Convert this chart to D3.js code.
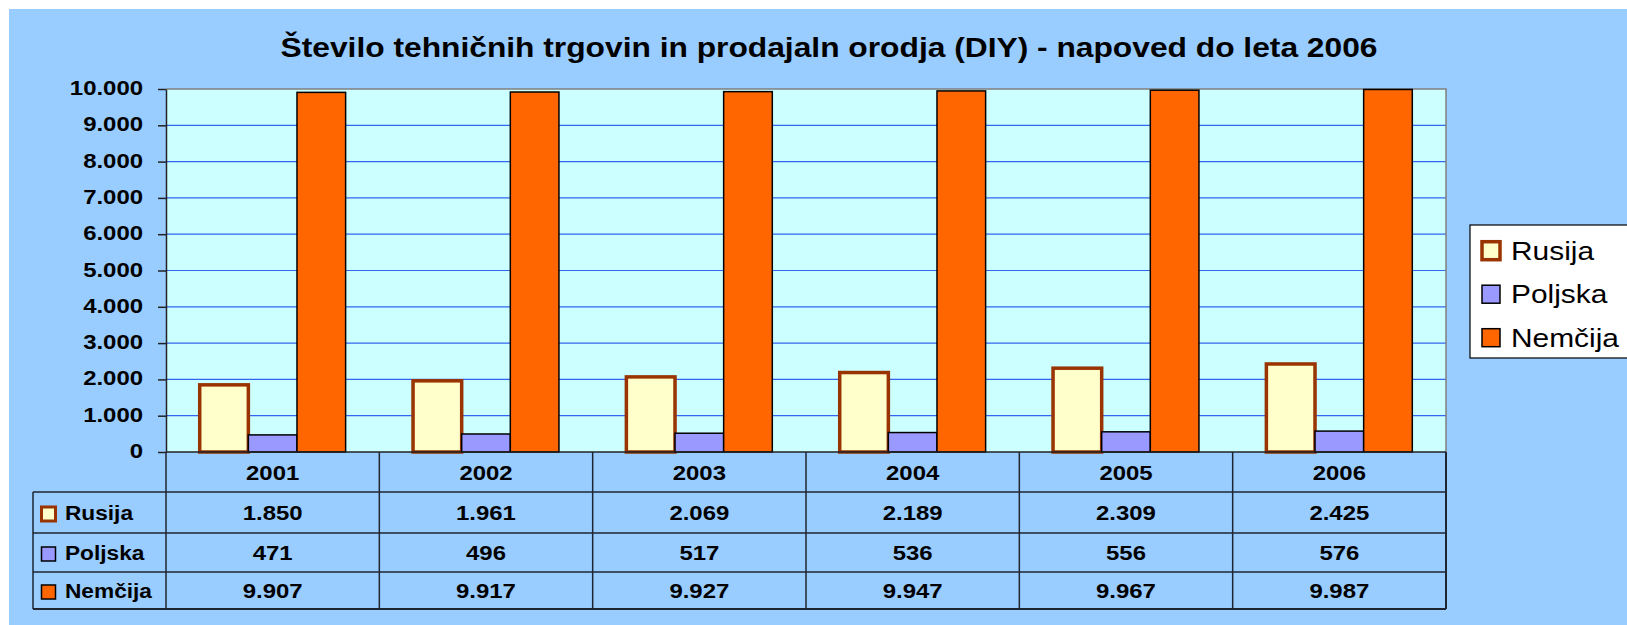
<!DOCTYPE html>
<html>
<head>
<meta charset="utf-8">
<script src="https://cdnjs.cloudflare.com/ajax/libs/d3/7.8.5/d3.min.js"></script>
<style>
    body { margin: 0; background: #fff; }
    text { font-family: "Liberation Sans", Arial, sans-serif; fill: #000; }
</style>
</head>
<body>
<div id="chart-area"></div>
<script>
// data
var years = ["2001", "2002", "2003", "2004", "2005", "2006"];
var seriesNames = ["Rusija", "Poljska", "Nemčija"];
var rusija = [1850, 1961, 2069, 2189, 2309, 2425];
var poljska = [471, 496, 517, 536, 556, 576];
var nemcija = [9907, 9917, 9927, 9947, 9967, 9987];
var yTicks = [0, 1000, 2000, 3000, 4000, 5000, 6000, 7000, 8000, 9000, 10000];
var titleText = "Število tehničnih trgovin in prodajaln orodja (DIY) - napoved do leta 2006";

// styles
var fills = { "Rusija": "#FFFFCC", "Poljska": "#9999FF", "Nemčija": "#FF6600" };
var strokes = { "Rusija": "#993300", "Poljska": "#000", "Nemčija": "#000" };
var strokeW = { "Rusija": 3.5, "Poljska": 1.5, "Nemčija": 1.5 };

// numbers like 1.850 / 10.000
var fmt = d3.formatLocale({ decimal: ",", thousands: ".", grouping: [3], currency: ["", ""] }).format(",d");

// the old chart image is stretched sideways a bit
var sx = 1.14;

ChartVis = function(_parentElement){
    this.parentElement = _parentElement;
    this.initVis();
}

ChartVis.prototype.initVis = function() {
    var vis = this;

    vis.W = 1627; vis.H = 625;
    vis.plot = { left: 166, right: 1446, top: 89, bottom: 452 };
    vis.rows = [452, 492, 533, 572, 609];
    vis.tableLeft = 33;

    vis.svg = d3.select("#" + vis.parentElement).append("svg")
        .attr("width", vis.W)
        .attr("height", vis.H);

    vis.svg.append("rect")
        .attr("x", 9).attr("y", 9)
        .attr("width", vis.W - 9).attr("height", vis.H - 9)
        .attr("fill", "#99CCFF");

    vis.svg.append("text")
        .attr("transform", "translate(829,57) scale(1.155,1)")
        .attr("text-anchor", "middle")
        .style("font-size", "27.5px")
        .style("font-weight", "bold")
        .text(titleText);

    vis.series = [
        { name: "Rusija", values: rusija },
        { name: "Poljska", values: poljska },
        { name: "Nemčija", values: nemcija }
    ];

    vis.y = d3.scaleLinear().domain([0, 10000]).range([vis.plot.bottom, vis.plot.top]);
    vis.x0 = d3.scaleBand().domain(years).range([vis.plot.left, vis.plot.right]);
    vis.barW = vis.x0.bandwidth() * 0.228;
    vis.x1 = d3.scaleBand().domain(seriesNames).range([0, 3 * vis.barW]);
    vis.groupOff = (vis.x0.bandwidth() - 3 * vis.barW) / 2;

    vis.drawPlot();
    vis.drawTable();
    vis.drawLegend();
}

ChartVis.prototype.drawPlot = function() {
    var vis = this;
    var p = vis.plot;

    vis.svg.append("rect")
        .attr("x", p.left).attr("y", p.top)
        .attr("width", p.right - p.left).attr("height", p.bottom - p.top)
        .attr("fill", "#CCFFFF");

    vis.svg.append("g")
        .selectAll("line")
        .data(yTicks.filter(d => d > 0 && d < 10000))
        .enter().append("line")
        .attr("x1", p.left).attr("x2", p.right)
        .attr("y1", d => vis.y(d)).attr("y2", d => vis.y(d))
        .attr("stroke", "#3366EE")
        .attr("stroke-width", 1.2);

    // gray frame top / right
    vis.svg.append("path")
        .attr("d", "M" + p.left + "," + p.top + "H" + p.right + "V" + p.bottom)
        .attr("fill", "none")
        .attr("stroke", "#808080")
        .attr("stroke-width", 1.5);

    var groups = vis.svg.append("g")
        .selectAll("g")
        .data(vis.series)
        .enter().append("g");

    groups.selectAll("rect")
        .data(s => s.values.map((v, i) => ({ name: s.name, year: years[i], value: v })))
        .enter().append("rect")
        .attr("x", d => vis.x0(d.year) + vis.groupOff + vis.x1(d.name))
        .attr("y", d => vis.y(d.value))
        .attr("width", vis.x1.bandwidth())
        .attr("height", d => vis.y(0) - vis.y(d.value))
        .attr("fill", d => fills[d.name])
        .attr("stroke", d => strokes[d.name])
        .attr("stroke-width", d => strokeW[d.name]);

    var axis = vis.svg.append("g")
        .attr("transform", "translate(" + p.left + ",0)")
        .call(d3.axisLeft(vis.y).tickValues(yTicks).tickFormat(fmt).tickSize(8).tickSizeOuter(0));

    axis.select(".domain").attr("stroke", "#222").attr("stroke-width", 1.5);
    axis.selectAll(".tick line").attr("stroke", "#222").attr("stroke-width", 1.5);
    axis.selectAll(".tick text")
        .attr("x", null).attr("dy", null)
        .attr("transform", "translate(-23,5.5) scale(" + sx + ",1)")
        .attr("text-anchor", "end")
        .style("font-size", "21px")
        .style("font-weight", "bold")
        .style("font-family", "'Liberation Sans', Arial, sans-serif")
        .attr("fill", "#000");
}

ChartVis.prototype.drawTable = function() {
    var vis = this;
    var p = vis.plot;
    var r = vis.rows;
    var lineCol = "#1f2630";
    var g = vis.svg.append("g");

    // horizontal rules
    g.selectAll("line.h")
        .data(r.slice(1))
        .enter().append("line")
        .attr("class", "h")
        .attr("x1", vis.tableLeft).attr("x2", p.right)
        .attr("y1", d => d).attr("y2", d => d)
        .attr("stroke", lineCol)
        .attr("stroke-width", (d, i) => i == 3 ? 2 : 1.5);

    // axis line under the plot
    g.append("line")
        .attr("x1", p.left).attr("x2", p.right)
        .attr("y1", r[0]).attr("y2", r[0])
        .attr("stroke", "#222").attr("stroke-width", 1.5);

    // vertical rules at category borders
    var borders = years.map(d => vis.x0(d)).concat([p.right]);
    g.selectAll("line.v")
        .data(borders)
        .enter().append("line")
        .attr("class", "v")
        .attr("x1", d => d).attr("x2", d => d)
        .attr("y1", r[0]).attr("y2", r[4])
        .attr("stroke", lineCol)
        .attr("stroke-width", (d, i) => i == borders.length - 1 ? 2 : 1.5);

    g.append("line")
        .attr("x1", vis.tableLeft).attr("x2", vis.tableLeft)
        .attr("y1", r[1]).attr("y2", r[4])
        .attr("stroke", lineCol).attr("stroke-width", 1.5);

    // year header
    g.selectAll("text.year")
        .data(years)
        .enter().append("text")
        .attr("class", "year")
        .attr("transform", d => "translate(" + (vis.x0(d) + vis.x0.bandwidth() / 2) + "," + ((r[0] + r[1]) / 2 + 7.5) + ") scale(" + sx + ",1)")
        .attr("text-anchor", "middle")
        .style("font-size", "21px")
        .style("font-weight", "bold")
        .text(d => d);

    // one row per series
    vis.series.forEach(function(s, k) {
        var cy = (r[k + 1] + r[k + 2]) / 2;

        g.append("rect")
            .attr("x", 41.5).attr("y", cy + 2 - 7.5)
            .attr("width", 14).attr("height", 14)
            .attr("fill", fills[s.name])
            .attr("stroke", strokes[s.name])
            .attr("stroke-width", s.name == "Rusija" ? 3 : 1.5);

        g.append("text")
            .attr("transform", "translate(65," + (cy + 7.5) + ") scale(1.08,1)")
            .style("font-size", "21px")
            .style("font-weight", "bold")
            .text(s.name);

        g.selectAll("text.v" + k)
            .data(s.values)
            .enter().append("text")
            .attr("class", "v" + k)
            .attr("transform", (d, i) => "translate(" + (vis.x0(years[i]) + vis.x0.bandwidth() / 2) + "," + (cy + 7.5) + ") scale(" + sx + ",1)")
            .attr("text-anchor", "middle")
            .style("font-size", "21px")
            .style("font-weight", "bold")
            .text(d => fmt(d));
    });
}

ChartVis.prototype.drawLegend = function() {
    var vis = this;
    var lg = vis.svg.append("g");

    lg.append("rect")
        .attr("x", 1470).attr("y", 225)
        .attr("width", 200).attr("height", 133)
        .attr("fill", "#fff")
        .attr("stroke", "#000")
        .attr("stroke-width", 1.2);

    var items = lg.selectAll("g.item")
        .data(vis.series)
        .enter().append("g")
        .attr("class", "item")
        .attr("transform", (d, i) => "translate(0," + (250.7 + i * 43.5) + ")");

    items.append("rect")
        .attr("x", 1482).attr("y", -9)
        .attr("width", 18).attr("height", 18)
        .attr("fill", d => fills[d.name])
        .attr("stroke", d => strokes[d.name])
        .attr("stroke-width", d => d.name == "Rusija" ? 3.5 : 1.5);

    items.append("text")
        .attr("transform", "translate(1511,9) scale(1.15,1)")
        .style("font-size", "26px")
        .text(d => d.name);
}

new ChartVis("chart-area");
</script>
</body>
</html>
